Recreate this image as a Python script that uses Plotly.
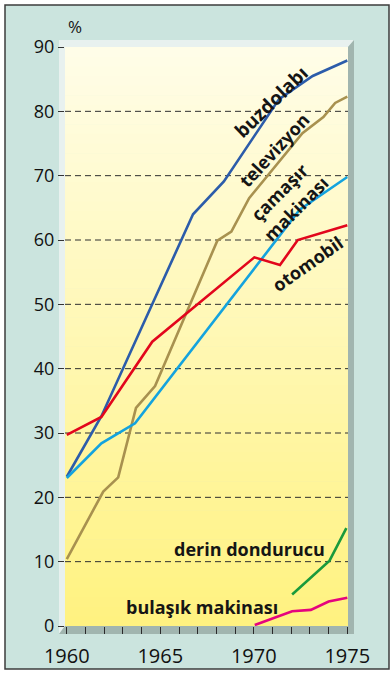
import plotly.graph_objects as go

# Household appliance ownership, % of households, 1960-1975
buzdolabi_years = [1960, 1961.85, 1966.75, 1968.4, 1971.35, 1973.15, 1975]
buzdolabi_pct = [23.2, 32.6, 64.0, 69.1, 81.9, 85.5, 87.9]

televizyon_years = [1960, 1961.95, 1962.75, 1963.7, 1964.72, 1968.05, 1968.8,
                    1969.75, 1972.6, 1973.72, 1974.35, 1975]
televizyon_pct = [10.4, 20.9, 23.1, 33.9, 37.3, 59.9, 61.3, 66.5, 76.6, 79.1, 81.3, 82.3]

camasir_years = [1960, 1961.85, 1963.65, 1972.45, 1975]
camasir_pct = [23.0, 28.4, 31.5, 64.7, 69.8]

otomobil_years = [1960, 1961.85, 1964.57, 1970.03, 1971.4, 1972.35, 1975]
otomobil_pct = [29.7, 32.5, 44.2, 57.3, 56.1, 60.0, 62.3]

dondurucu_years = [1972.05, 1974.05, 1974.95]
dondurucu_pct = [4.9, 10.15, 15.2]

bulasik_years = [1970.05, 1972.05, 1973.05, 1974.0, 1975]
bulasik_pct = [0.15, 2.3, 2.5, 3.8, 4.4]

x_tick_years = [1960, 1965, 1970, 1975]
y_tick_values = [0, 10, 20, 30, 40, 50, 60, 70, 80, 90]
grid_levels = [10, 20, 30, 40, 50, 60, 70, 80]

series = [
    (buzdolabi_years, buzdolabi_pct, "#2c5caa"),
    (televizyon_years, televizyon_pct, "#a8914f"),
    (camasir_years, camasir_pct, "#14a3de"),
    (otomobil_years, otomobil_pct, "#e2061c"),
    (dondurucu_years, dondurucu_pct, "#1a9a3c"),
    (bulasik_years, bulasik_pct, "#e5047e"),
]

W, H = 392, 673
L, R, T, B = 65, 348, 47, 626
PW, PH = R - L, B - T


def px(x):
    return (x - L) / PW


def py(y):
    return (B - y) / PH


fig = go.Figure()
for xs, ys, color in series:
    fig.add_trace(go.Scatter(x=xs, y=ys, mode="lines",
                             line=dict(color=color, width=2.6),
                             hoverinfo="skip", showlegend=False))

shapes = []
# outer panel
shapes.append(dict(type="rect", xref="paper", yref="paper",
                   x0=px(5), x1=px(389), y0=py(669), y1=py(5),
                   fillcolor="#cbe4de", line=dict(color="#3c3c3c", width=1.5),
                   layer="below"))
# vertical cream-to-yellow gradient behind the plot
top_rgb = (255, 253, 232)
bot_rgb = (255, 242, 128)
n_bands = 60
for i in range(n_bands):
    t = i / (n_bands - 1)
    c = tuple(round(a + (b - a) * t) for a, b in zip(top_rgb, bot_rgb))
    y0 = T + PH * i / n_bands
    y1 = T + PH * (i + 1) / n_bands + 0.6
    shapes.append(dict(type="rect", xref="paper", yref="paper",
                       x0=0, x1=1, y0=py(min(y1, B)), y1=py(y0),
                       fillcolor="rgb(%d,%d,%d)" % c, line=dict(width=0),
                       layer="below"))


def path(points):
    return "M " + " L ".join("%.5f,%.5f" % (px(a), py(b)) for a, b in points) + " Z"


# bevelled frame: light top/left edges, shaded right/bottom edges
shapes.append(dict(type="path", xref="paper", yref="paper",
                   path=path([(59, 40), (354, 40), (348, 47), (65, 47), (65, 626), (59, 634)]),
                   fillcolor="#e8f1ef", line=dict(width=0), layer="below"))
shapes.append(dict(type="path", xref="paper", yref="paper",
                   path=path([(354, 40), (354, 634), (59, 634), (65, 626), (348, 626), (348, 47)]),
                   fillcolor="#a1b5af", line=dict(width=0), layer="below"))
# dashed gridlines
for v in grid_levels:
    shapes.append(dict(type="line", xref="paper", yref="y", x0=0, x1=1, y0=v, y1=v,
                       line=dict(color="#2e2e2e", width=1, dash="6px,4px"),
                       layer="below"))

label_font = dict(family="Open Sans", size=18, color="#151515", weight="bold")
annotations = [
    dict(text="%", x=px(75), y=py(27), textangle=0,
         font=dict(family="Open Sans", size=17, color="#151515")),
    dict(text="buzdolabı", x=px(271), y=py(102), textangle=-44,
         font=dict(label_font, size=19)),
    dict(text="televizyon", x=px(274), y=py(150), textangle=-47, font=label_font),
    dict(text="çamaşır<br>makinası", x=px(287), y=py(200), textangle=-45, font=label_font),
    dict(text="otomobil", x=px(307), y=py(264), textangle=-35, font=label_font),
    dict(text="derin dondurucu", x=px(249), y=py(549), textangle=0, font=label_font),
    dict(text="bulaşık makinası", x=px(202), y=py(607), textangle=0, font=label_font),
]
for a in annotations:
    a.update(xref="paper", yref="paper", xanchor="center", yanchor="middle",
             showarrow=False)

fig.update_layout(
    width=W, height=H,
    margin=dict(l=L, r=W - R, t=T, b=H - B, pad=0, autoexpand=False),
    paper_bgcolor="white",
    plot_bgcolor="rgba(0,0,0,0)",
    shapes=shapes,
    annotations=annotations,
    font=dict(family="Open Sans", color="#151515"),
    xaxis=dict(range=[1959.904, 1975.037], tickmode="array", tickvals=x_tick_years,
               ticks="outside", ticklen=7, tickwidth=1.2, tickcolor="#2a2a2a",
               minor=dict(dtick=1, tick0=1960, ticks="outside", ticklen=7,
                          tickwidth=1.2, tickcolor="#2a2a2a", showgrid=False),
               showgrid=False, zeroline=False, showline=False, automargin=False,
               tickfont=dict(size=20, color="#111111"), ticklabelstandoff=5,
               fixedrange=True),
    yaxis=dict(range=[0, 90], tickmode="array", tickvals=y_tick_values,
               ticks="outside", ticklen=6, tickwidth=1.2, tickcolor="#333333",
               showgrid=False, zeroline=False, showline=False, automargin=False,
               tickfont=dict(size=18, color="#111111"), fixedrange=True),
)

fig.write_html("out.html")
